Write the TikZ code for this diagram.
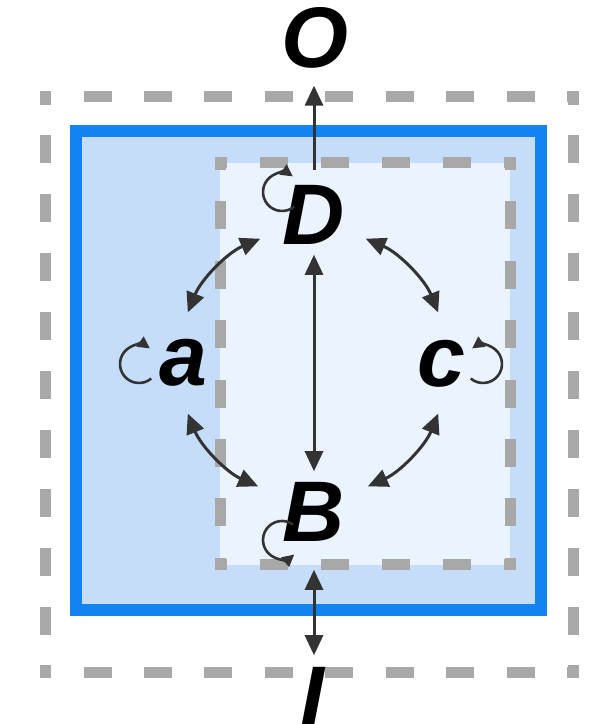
\documentclass[tikz,border=0pt]{standalone}
\usepackage{fontspec}
\setmainfont{Liberation Sans}
\usetikzlibrary{arrows.meta}
\definecolor{bluestroke}{HTML}{1283F0}
\definecolor{bluefill}{HTML}{C5DDF9}
\definecolor{innerfill}{HTML}{EAF3FE}
\definecolor{dashgray}{HTML}{A8A8A8}
\definecolor{arrgray}{HTML}{333333}
\begin{document}
\begin{tikzpicture}[x=1pt,y=1pt,
  lbl/.style={inner sep=0pt, font=\fontsize{86}{86}\selectfont\bfseries\itshape},
  dashside/.style={draw=dashgray, line width=11pt, line cap=rect},
  bigtip/.style={Triangle[length=20pt,width=18pt]},
  conn/.style={draw=arrgray, line width=3pt},
  both/.style={conn, {Triangle[length=20pt,width=18pt]}-{Triangle[length=20pt,width=18pt]}},
  single/.style={conn, -{Triangle[length=20pt,width=18pt]}},
  loopar/.style={draw=arrgray, line width=2.6pt, -{Triangle[length=12pt,width=12pt]}}
]
\useasboundingbox (0,0) rectangle (589,724);
% outer dashed frame
\draw[dashside, dash pattern=on 17pt off 43.43pt, dash phase=16.43pt] (45,627) -- (573,627);
\draw[dashside, dash pattern=on 17pt off 43.43pt, dash phase=16.43pt] (45,51) -- (573,51);
\draw[dashside, dash pattern=on 17pt off 41.88pt, dash phase=14.88pt] (45,627) -- (45,51);
\draw[dashside, dash pattern=on 17pt off 41.88pt, dash phase=14.88pt] (573,627) -- (573,51);
% blue box
\draw[draw=bluestroke, fill=bluefill, line width=12pt] (76,114) rectangle (541,593);
% inner dashed box
\fill[innerfill] (220,159) rectangle (510,561);
\draw[dashside, dash pattern=on 17pt off 44pt, dash phase=16pt] (220,561) -- (510,561);
\draw[dashside, dash pattern=on 17pt off 44pt, dash phase=16pt] (220,159) -- (510,159);
\draw[dashside, dash pattern=on 17pt off 42.4pt, dash phase=15.4pt] (220,561) -- (220,159);
\draw[dashside, dash pattern=on 17pt off 42.4pt, dash phase=15.4pt] (510,561) -- (510,159);
% labels
\node[lbl] (O) at (315,686) {O};
\node[lbl] (D) at (314,509) {D};
\node[lbl] (a) at (183,361) {a};
\node[lbl] (c) at (441,360) {c};
\node[lbl] (B) at (314,212) {B};
\node[lbl] (I) at (312,27) {I};
\coordinate (ctr) at (313,361);
% vertical connectors
\draw[single] ([yshift=15pt]D.north) -- ([yshift=-17pt]D.north |- O.south);
\draw[both] ([yshift=-10pt]D.south) -- ([yshift=11pt]D.south |- B.north);
\draw[both] ([yshift=-28pt]B.south) -- ([yshift=12pt]B.south |- I.north);
% curved connectors on a circle
\draw[both] ([shift={(113:135)}]ctr) arc[start angle=113, end angle=158, radius=135];
\draw[both] ([shift={(22:135)}]ctr) arc[start angle=22, end angle=67, radius=135];
\draw[both] ([shift={(202:135)}]ctr) arc[start angle=202, end angle=246, radius=135];
\draw[both] ([shift={(294:135)}]ctr) arc[start angle=294, end angle=338, radius=135];
% self loops
\coordinate (lD) at (282,532);
\coordinate (la) at (139,360);
\coordinate (lc) at (483,360);
\coordinate (lB) at (282,184);
\draw[loopar] ([shift={(-50:19)}]lD) arc[start angle=-50, end angle=-305, radius=19];
\draw[loopar] ([shift={(-50:19)}]la) arc[start angle=-50, end angle=-305, radius=19];
\draw[loopar] ([shift={(230:19)}]lc) arc[start angle=230, end angle=485, radius=19];
\draw[loopar] ([shift={(55:19)}]lB) arc[start angle=55, end angle=310, radius=19];
\end{tikzpicture}
\end{document}
